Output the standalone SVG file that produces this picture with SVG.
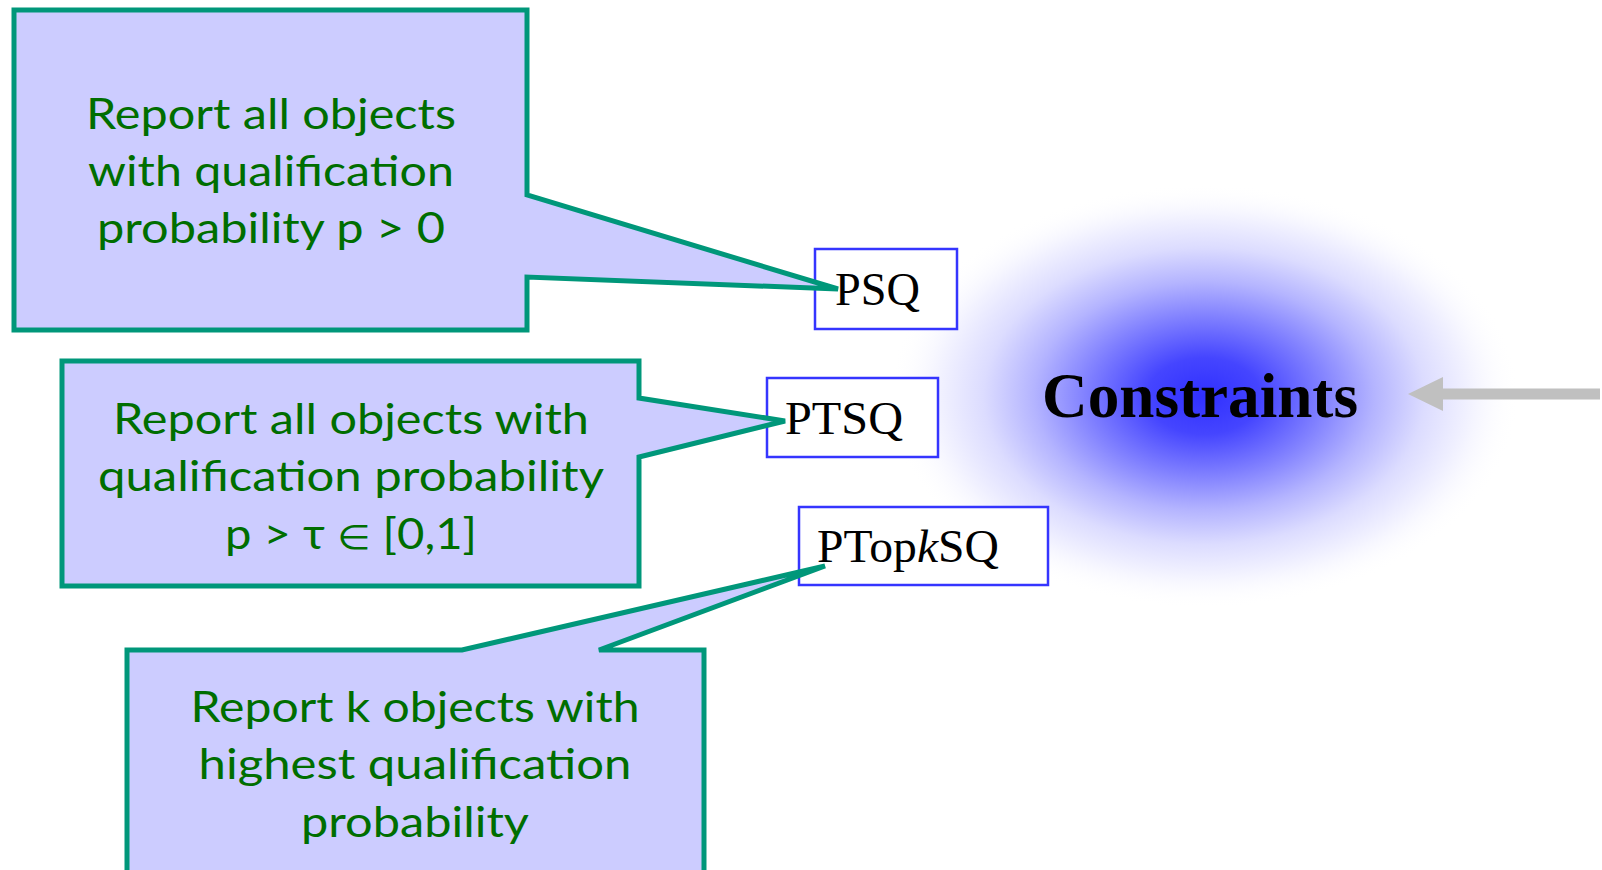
<svg xmlns="http://www.w3.org/2000/svg" width="1602" height="870" viewBox="0 0 1602 870">
  <style>
    .callout { fill: #ccccff; stroke: #00977a; stroke-width: 5; stroke-linejoin: miter; }
    .note { font-family: Lato, "Open Sans", "DejaVu Sans", sans-serif; font-size: 42px; fill: #006e00; text-anchor: middle; }
    .qbox { fill: #ffffff; stroke: #3535ff; stroke-width: 2.5; }
    .qlabel { font-family: "Liberation Serif", "Times New Roman", serif; font-size: 47px; fill: #000000; }
    .title { font-family: "Liberation Serif", "Times New Roman", serif; font-size: 64px; font-weight: bold; fill: #000000; }
  </style>
  <defs>
    <radialGradient id="glow" cx="0.5" cy="0.5" r="0.5">
      <stop offset="0" stop-color="#3030ff"/>
      <stop offset="0.18" stop-color="#4545ff"/>
      <stop offset="0.38" stop-color="#8282ff"/>
      <stop offset="0.54" stop-color="#b4b4ff"/>
      <stop offset="0.7" stop-color="#dcdcff"/>
      <stop offset="0.85" stop-color="#f3f3ff"/>
      <stop offset="1" stop-color="#ffffff" stop-opacity="0"/>
    </radialGradient>
  </defs>

  <rect width="1602" height="870" fill="#ffffff"/>

  <!-- Constraints node with soft blue halo -->
  <g id="constraints">
    <ellipse cx="1204" cy="396" rx="315" ry="212" fill="url(#glow)"/>
    <text class="title" x="1042" y="417" textLength="316" lengthAdjust="spacingAndGlyphs">Constraints</text>
  </g>

  <!-- incoming grey arrow -->
  <g id="connectors">
    <line x1="1600" y1="394" x2="1438" y2="394" stroke="#c0c0c0" stroke-width="11"/>
    <polygon points="1408,394 1443,377 1443,411" fill="#c0c0c0"/>
  </g>

  <!-- query type boxes -->
  <g id="psq">
    <rect class="qbox" x="815" y="249" width="142" height="80"/>
    <text class="qlabel" x="835" y="305" textLength="85" lengthAdjust="spacingAndGlyphs">PSQ</text>
  </g>
  <g id="ptsq">
    <rect class="qbox" x="767" y="378" width="171" height="79"/>
    <text class="qlabel" x="785" y="434" textLength="118" lengthAdjust="spacingAndGlyphs">PTSQ</text>
  </g>
  <g id="ptopksq">
    <rect class="qbox" x="799" y="507" width="249" height="78"/>
    <text class="qlabel" x="817" y="562" textLength="182" lengthAdjust="spacingAndGlyphs">PTop<tspan font-style="italic">k</tspan>SQ</text>
  </g>

  <!-- callout notes -->
  <g id="note-psq">
    <path class="callout" d="M14,10 H527 V195 L838,289 L527,277 V330 H14 Z"/>
    <text class="note" x="271" y="129" textLength="370" lengthAdjust="spacingAndGlyphs">Report all objects</text>
    <text class="note" x="271" y="186" textLength="366" lengthAdjust="spacingAndGlyphs">with qualification</text>
    <text class="note" x="271" y="243" textLength="348" lengthAdjust="spacingAndGlyphs">probability p &gt; 0</text>
  </g>
  <g id="note-ptsq">
    <path class="callout" d="M62,361 H639 V398 L785,421 L639,457 V586 H62 Z"/>
    <text class="note" x="351" y="434" textLength="476" lengthAdjust="spacingAndGlyphs">Report all objects with</text>
    <text class="note" x="351" y="491" textLength="506" lengthAdjust="spacingAndGlyphs">qualification probability</text>
    <text class="note" x="351" y="549" textLength="252" lengthAdjust="spacingAndGlyphs">p &gt; τ <tspan font-size="34px">∈</tspan> [0,1]</text>
  </g>
  <g id="note-ptopksq">
    <path class="callout" d="M127,650 H462 L825,566 L599,650 H704 V880 H127 Z"/>
    <text class="note" x="415" y="722" textLength="449" lengthAdjust="spacingAndGlyphs">Report k objects with</text>
    <text class="note" x="415" y="779" textLength="433" lengthAdjust="spacingAndGlyphs">highest qualification</text>
    <text class="note" x="415" y="837" textLength="228" lengthAdjust="spacingAndGlyphs">probability</text>
  </g>
</svg>
